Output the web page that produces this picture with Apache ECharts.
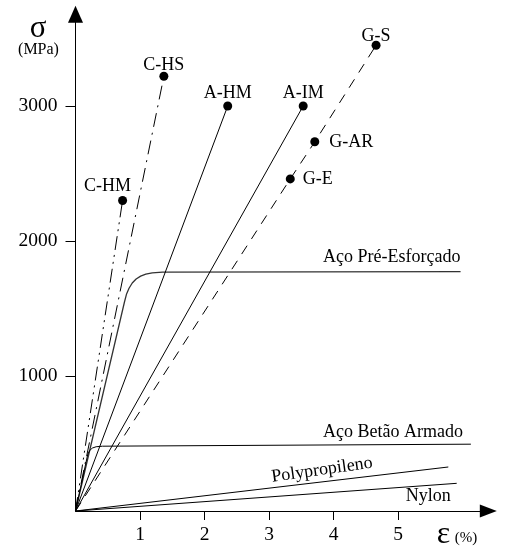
<!DOCTYPE html>
<html>
<head>
<meta charset="utf-8">
<script src="https://cdn.jsdelivr.net/npm/echarts@6/dist/echarts.min.js"></script>
<style>
html,body{margin:0;padding:0;background:#fff;}
#chart{width:509px;height:546px;}
</style>
</head>
<body>
<div id="chart"></div>
<script>
// ---- data ----
const fiberNames  = ['C-HM', 'C-HS', 'A-HM', 'A-IM'];
const fiberStrain = [0.73, 1.37, 2.36, 3.53];
const fiberStress = [2300, 3220, 3000, 3000];

const glassNames  = ['G-E', 'G-AR', 'G-S'];
const glassStrain = [3.33, 3.71, 4.66];
const glassStress = [2460, 2735, 3450];

const prestressStrain = [0, 0.76, 0.79, 0.83, 0.88, 0.94, 1.01, 1.09, 1.19, 1.35, 5.97];
const prestressStress = [0, 1550, 1605, 1650, 1689, 1719, 1740, 1754, 1764, 1770, 1773];

const rebarStrain = [0, 0.19, 0.22, 0.26, 0.32, 0.42, 6.13];
const rebarStress = [0, 420, 448, 466, 476, 480, 495];

const polyStrain  = [0, 5.78];
const polyStress  = [0, 326];

const nylonStrain = [0, 5.91];
const nylonStress = [0, 205];

const xTicks = [1, 2, 3, 4, 5];
const yTicks = [1000, 2000, 3000];

const curveNames = ['Aço Pré-Esforçado', 'Aço Betão Armado', 'Polypropileno', 'Nylon'];
const axisTitles = ['σ', '(MPa)', 'ε', '(%)'];

// ---- styling ----
const FONT = 'Liberation Serif';
const fiberLine = {
  'C-HM': [14, 5, 2, 5, 2, 5],
  'C-HS': [14, 6, 2, 6],
  'A-HM': 'solid',
  'A-IM': 'solid'
};
const labelPlace = {
  'C-HM': {position: 'top', offset: [-15, 4]},
  'C-HS': {position: 'top', offset: [0, 7]},
  'A-HM': {position: 'top', offset: [0, 6]},
  'A-IM': {position: 'top', offset: [0, 6]},
  'G-S':  {position: 'top', offset: [0, 10]},
  'G-AR': {position: 'right', distance: 10},
  'G-E':  {position: 'right', distance: 8}
};
const labelText = {color: '#000', fontFamily: FONT, fontSize: 18};

function pairs(xs, ys) { return xs.map((x, i) => [x, ys[i]]); }

const series = [];

fiberNames.forEach((name, i) => {
  series.push({
    type: 'line', name: name,
    symbol: 'circle', symbolSize: 9,
    itemStyle: {color: '#000'},
    lineStyle: {color: '#000', width: 1, type: fiberLine[name]},
    animation: false, z: 3,
    data: [
      {value: [0, 0], symbol: 'none'},
      {value: [fiberStrain[i], fiberStress[i]],
       label: Object.assign({show: true, formatter: name}, labelText, labelPlace[name])}
    ]
  });
});

series.push({
  type: 'line', name: 'G',
  symbol: 'circle', symbolSize: 9,
  itemStyle: {color: '#000'},
  lineStyle: {color: '#000', width: 1, type: [10, 8]},
  animation: false, z: 3,
  data: [{value: [0, 0], symbol: 'none'}].concat(glassNames.map((n, i) => ({
    value: [glassStrain[i], glassStress[i]],
    label: Object.assign({show: true, formatter: n}, labelText, labelPlace[n])
  })))
});

function curve(xs, ys, name, lab, width, color) {
  const d = pairs(xs, ys).map(v => ({value: v}));
  if (lab) {
    d[d.length - 1].label = Object.assign({show: true, formatter: name}, labelText, lab);
  }
  return {
    type: 'line', name: name,
    symbol: 'circle', symbolSize: 0, showSymbol: true,
    smooth: false,
    lineStyle: {color: color || '#000', width: width || 1},
    itemStyle: {color: '#000'},
    animation: false, z: 2,
    data: d
  };
}

series.push(curve(prestressStrain, prestressStress, curveNames[0],
  {position: 'top', align: 'right', distance: 5}, 1.3, '#333'));
series.push(curve(rebarStrain, rebarStress, curveNames[1],
  {position: 'top', align: 'right', distance: 3, offset: [-8, 0]}, 1));
series.push(curve(polyStrain, polyStress, curveNames[2], null, 1));
series.push(curve(nylonStrain, nylonStress, curveNames[3],
  {position: 'bottom', align: 'right', distance: 4, offset: [-6, 0]}, 1));

const chart = echarts.init(document.getElementById('chart'), null, {renderer: 'canvas'});

const option = {
  backgroundColor: '#fff',
  animation: false,
  grid: {left: 75.5, right: 20.7, top: 14.2, bottom: 35},
  xAxis: {
    type: 'value', min: 0, max: 6.4, interval: 1,
    splitLine: {show: false},
    axisLine: {show: true, onZero: true, symbol: ['none', 'triangle'], symbolSize: [13, 17],
      lineStyle: {color: '#000', width: 1}},
    axisTick: {show: true, customValues: xTicks, length: 9, lineStyle: {color: '#000'}},
    axisLabel: {customValues: xTicks, color: '#000', fontFamily: FONT, fontSize: 19.5, margin: 14,
      formatter: v => String(v)}
  },
  yAxis: {
    type: 'value', min: 0, max: 3680, interval: 1000,
    splitLine: {show: false},
    axisLine: {show: true, onZero: true, symbol: ['none', 'triangle'], symbolSize: [15, 17],
      lineStyle: {color: '#000', width: 1}},
    axisTick: {show: true, customValues: yTicks, length: 10, lineStyle: {color: '#000'}},
    axisLabel: {customValues: yTicks, color: '#000', fontFamily: FONT, fontSize: 19.5, margin: 18,
      formatter: v => String(v)}
  },
  graphic: [
    {type: 'text', x: 38, y: 29, style: {text: axisTitles[0], font: '31px "Liberation Serif"', fill: '#000', textAlign: 'center', textVerticalAlign: 'middle'}},
    {type: 'text', x: 38.5, y: 50, style: {text: axisTitles[1], font: '16px "Liberation Serif"', fill: '#000', textAlign: 'center', textVerticalAlign: 'middle'}},
    {type: 'text', x: 443.5, y: 535, style: {text: axisTitles[2], font: '32px "Liberation Serif"', fill: '#000', textAlign: 'center', textVerticalAlign: 'middle'}},
    {type: 'text', x: 466, y: 538, style: {text: axisTitles[3], font: '15px "Liberation Serif"', fill: '#000', textAlign: 'center', textVerticalAlign: 'middle'}},
    {type: 'text', x: 322, y: 470, rotation: 8 * Math.PI / 180, style: {text: curveNames[2], font: '18px "Liberation Serif"', fill: '#000', textAlign: 'center', textVerticalAlign: 'middle'}}
  ],
  series: series
};
chart.setOption(option);
</script>
</body>
</html>
